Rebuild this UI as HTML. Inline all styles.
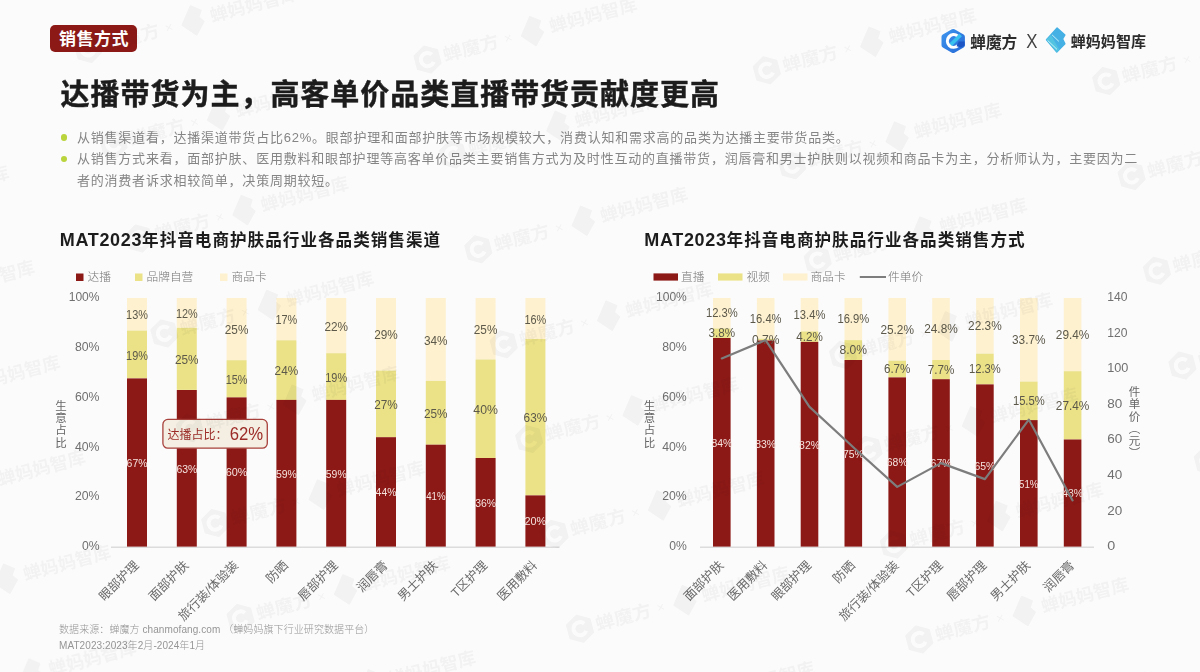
<!DOCTYPE html>
<html lang="zh-CN">
<head>
<meta charset="utf-8">
<title>销售方式</title>
<style>
html,body{margin:0;padding:0;}
body{width:1200px;height:672px;overflow:hidden;background:#fbfbfb;font-family:"Liberation Sans", "Noto Sans CJK SC", sans-serif;position:relative;}
#slide{position:absolute;left:0;top:0;width:1200px;height:672px;overflow:hidden;filter:blur(0.45px);}
.abs{position:absolute;white-space:nowrap;}
#badge{left:50px;top:25px;width:87px;height:27.4px;background:#8c1916;border-radius:5px;color:#fff;font-weight:700;font-size:17px;line-height:29.3px;text-align:center;letter-spacing:0.5px;text-indent:1px;}
#title{left:60.6px;top:73.4px;font-size:29px;font-weight:700;-webkit-text-stroke:0.45px #1c1c1c;color:#1c1c1c;letter-spacing:0.97px;line-height:44px;}
.bul{left:77px;font-size:13px;font-weight:400;color:#858585;letter-spacing:0.78px;line-height:21.5px;}
.dot{width:6.6px;height:6.6px;border-radius:50%;background:#b9d43c;left:60.8px;margin-top:-0.3px;}
.ctitle{font-size:16.6px;font-weight:700;color:#1c1c1c;line-height:24px;letter-spacing:1.0px;}
.ctitle span{font-size:18px;letter-spacing:0.65px;}
.foot{left:59px;font-size:10px;color:#959595;font-weight:300;line-height:14px;letter-spacing:0.08px;}
#rv{left:1127.5px;top:386.3px;width:12px;writing-mode:vertical-rl;font-size:11.5px;letter-spacing:0.7px;color:#666;font-weight:400;line-height:12px;}
svg{position:absolute;left:0;top:0;}
svg text{font-family:"Liberation Sans", "Noto Sans CJK SC", sans-serif;}
.wl{font-size:10.8px;fill:#f5e3de;font-weight:300;}
.dl{font-size:12.2px;fill:#5c584a;font-weight:300;}
.xl{font-size:12.5px;fill:#6a6a6a;text-anchor:end;font-weight:400;}
.al{font-size:12.2px;fill:#707070;font-weight:300;}
.vl{font-size:11.5px;fill:#666;text-anchor:middle;font-weight:400;}
.lg{font-size:11.7px;fill:#777;font-weight:300;}
#wmlayer{opacity:0.036;filter:blur(0.7px);}
.wm text{font-size:18px;font-weight:700;fill:#000;}
</style>
</head>
<body>
<div id="slide">
<div id="badge" class="abs">销售方式</div>
<div id="title" class="abs">达播带货为主，高客单价品类直播带货贡献度更高</div>
<div class="abs dot" style="top:134.5px"></div>
<div class="abs dot" style="top:156px"></div>
<div class="abs bul" style="top:126.5px">从销售渠道看，达播渠道带货占比62%。眼部护理和面部护肤等市场规模较大，消费认知和需求高的品类为达播主要带货品类。</div>
<div class="abs bul" style="top:148px">从销售方式来看，面部护肤、医用敷料和眼部护理等高客单价品类主要销售方式为及时性互动的直播带货，润唇膏和男士护肤则以视频和商品卡为主，分析师认为，主要因为二<br>者的消费者诉求相较简单，决策周期较短。</div>
<div class="abs ctitle" style="left:59.8px;top:227.9px"><span>MAT2023</span>年抖音电商护肤品行业各品类销售渠道</div>
<div class="abs ctitle" style="left:644.3px;top:227.9px"><span>MAT2023</span>年抖音电商护肤品行业各品类销售方式</div>
<div class="abs foot" style="top:622.5px">数据来源：蝉魔方 chanmofang.com （蝉妈妈旗下行业研究数据平台）</div>
<div class="abs foot" style="top:639px">MAT2023:2023年2月-2024年1月</div>
<div id="rv" class="abs">件单价（元）</div>

<svg width="1200" height="672" viewBox="0 0 1200 672">
<defs>
<linearGradient id="hx" x1="0" y1="0" x2="1" y2="1"><stop offset="0" stop-color="#3f97ee"/><stop offset="1" stop-color="#2468d6"/></linearGradient>

</defs>

<!-- logos -->
<g id="logo1">
<path d="M951.9 29.3 Q953.2 28.5 954.5 29.3 L963.6 34.5 Q964.9 35.3 964.9 36.8 L964.9 45.2 Q964.9 46.7 963.6 47.5 L954.5 52.7 Q953.2 53.5 951.9 52.7 L942.8 47.5 Q941.5 46.7 941.5 45.2 L941.5 36.8 Q941.5 35.3 942.8 34.5 Z" fill="url(#hx)"/>
<path d="M957.6 36.0 A6.3 6.3 0 1 0 958.0 45.6" fill="none" stroke="#fff" stroke-width="3.2"/>
<path d="M950.8 44.6 L960.6 35.0" fill="none" stroke="#38c1ee" stroke-width="3.6"/>
<path d="M958.8 41.6 L964.6 41.6 L964.6 45.6 L961 47.6 L956.5 46.2 Z" fill="#1d55c4"/>
<text x="970.3" y="47.5" font-size="16" font-weight="700" fill="#2b2b2b" textLength="47" lengthAdjust="spacingAndGlyphs">蝉魔方</text>
<text transform="translate(1026.3,47.8) scale(0.82,1)" font-size="20.5" font-weight="300" fill="#444">X</text>
</g>
<g id="logo2">
<path d="M1057.1 28 L1064.9 35 L1062.6 39 L1064.9 43.7 L1056.8 52 L1046.5 39.7 Z" fill="#45b0e4" stroke="#45b0e4" stroke-width="1.4" stroke-linejoin="round"/>
<path d="M1051 35 L1046.2 39.7 L1056.8 52.3 L1059.3 49.8 Z" fill="#52c4e2"/>
<path d="M1052.1 34.9 L1058.9 41.4" stroke="#c5f1f8" stroke-width="1"/>
<path d="M1047.6 40.4 L1057 49.4" stroke="#c5f1f8" stroke-width="1"/>
<text x="1070.8" y="46.5" font-size="15" font-weight="700" fill="#2b2b2b" textLength="75.2" lengthAdjust="spacingAndGlyphs">蝉妈妈智库</text>
</g>

<!-- left chart -->
<g id="lchart">
<rect x="76" y="273.5" width="7.5" height="7.5" fill="#8c1916"/><text x="87.5" y="281.5" class="lg" dy="-0.4">达播</text>
<rect x="135" y="273.5" width="7.5" height="7.5" fill="#ebe288"/><text x="146.5" y="281.5" class="lg" dy="-0.4">品牌自营</text>
<rect x="220" y="273.5" width="7.5" height="7.5" fill="#fdf1d0"/><text x="231.5" y="281.5" class="lg" dy="-0.4">商品卡</text>
<text x="81.9" y="550.3" class="al" textLength="17.6" lengthAdjust="spacingAndGlyphs">0%</text>
<text x="74.9" y="500.4" class="al" textLength="24.6" lengthAdjust="spacingAndGlyphs">20%</text>
<text x="74.9" y="450.5" class="al" textLength="24.6" lengthAdjust="spacingAndGlyphs">40%</text>
<text x="74.9" y="400.7" class="al" textLength="24.6" lengthAdjust="spacingAndGlyphs">60%</text>
<text x="74.9" y="350.8" class="al" textLength="24.6" lengthAdjust="spacingAndGlyphs">80%</text>
<text x="68.7" y="300.9" class="al" textLength="30.8" lengthAdjust="spacingAndGlyphs">100%</text>
<text x="61" y="409.8" class="vl">生</text>
<text x="61" y="422.1" class="vl">意</text>
<text x="61" y="434.4" class="vl">占</text>
<text x="61" y="446.7" class="vl">比</text>
<line x1="111" y1="547.2" x2="559.5" y2="547.2" stroke="#dcdcdc" stroke-width="1.4"/>
<rect x="127.0" y="298.0" width="20.0" height="32.6" fill="#fdf1d0"/><rect x="127.0" y="330.6" width="20.0" height="47.7" fill="#ebe288"/><rect x="127.0" y="378.4" width="20.0" height="168.2" fill="#8c1916"/>
<rect x="176.8" y="298.0" width="20.0" height="29.8" fill="#fdf1d0"/><rect x="176.8" y="327.8" width="20.0" height="62.1" fill="#ebe288"/><rect x="176.8" y="390.0" width="20.0" height="156.6" fill="#8c1916"/>
<rect x="226.6" y="298.0" width="20.0" height="62.2" fill="#fdf1d0"/><rect x="226.6" y="360.2" width="20.0" height="37.3" fill="#ebe288"/><rect x="226.6" y="397.4" width="20.0" height="149.2" fill="#8c1916"/>
<rect x="276.4" y="298.0" width="20.0" height="42.3" fill="#fdf1d0"/><rect x="276.4" y="340.3" width="20.0" height="59.7" fill="#ebe288"/><rect x="276.4" y="399.9" width="20.0" height="146.7" fill="#8c1916"/>
<rect x="326.2" y="298.0" width="20.0" height="55.2" fill="#fdf1d0"/><rect x="326.2" y="353.2" width="20.0" height="46.7" fill="#ebe288"/><rect x="326.2" y="399.9" width="20.0" height="146.7" fill="#8c1916"/>
<rect x="376.0" y="298.0" width="20.0" height="72.6" fill="#fdf1d0"/><rect x="376.0" y="370.6" width="20.0" height="66.6" fill="#ebe288"/><rect x="376.0" y="437.2" width="20.0" height="109.4" fill="#8c1916"/>
<rect x="425.8" y="298.0" width="20.0" height="82.9" fill="#fdf1d0"/><rect x="425.8" y="380.9" width="20.0" height="63.8" fill="#ebe288"/><rect x="425.8" y="444.7" width="20.0" height="101.9" fill="#8c1916"/>
<rect x="475.6" y="298.0" width="20.0" height="61.5" fill="#fdf1d0"/><rect x="475.6" y="359.5" width="20.0" height="98.5" fill="#ebe288"/><rect x="475.6" y="458.0" width="20.0" height="88.6" fill="#8c1916"/>
<rect x="525.4" y="298.0" width="20.0" height="41.0" fill="#fdf1d0"/><rect x="525.4" y="339.0" width="20.0" height="156.4" fill="#ebe288"/><rect x="525.4" y="495.4" width="20.0" height="51.2" fill="#8c1916"/>
<text x="126.6" y="466.7" class="wl" textLength="20.9" lengthAdjust="spacingAndGlyphs">67%</text>
<text x="126.1" y="359.6" class="dl" textLength="21.8" lengthAdjust="spacingAndGlyphs">19%</text>
<text x="126.1" y="319.4" class="dl" textLength="21.8" lengthAdjust="spacingAndGlyphs">13%</text>
<text x="176.4" y="472.5" class="wl" textLength="20.9" lengthAdjust="spacingAndGlyphs">63%</text>
<text x="175.0" y="364.0" class="dl" textLength="23.6" lengthAdjust="spacingAndGlyphs">25%</text>
<text x="175.9" y="318.0" class="dl" textLength="21.8" lengthAdjust="spacingAndGlyphs">12%</text>
<text x="225.7" y="476.2" class="wl" textLength="21.8" lengthAdjust="spacingAndGlyphs">60%</text>
<text x="225.7" y="383.9" class="dl" textLength="21.8" lengthAdjust="spacingAndGlyphs">15%</text>
<text x="224.8" y="334.2" class="dl" textLength="23.6" lengthAdjust="spacingAndGlyphs">25%</text>
<text x="276.0" y="477.5" class="wl" textLength="20.9" lengthAdjust="spacingAndGlyphs">59%</text>
<text x="274.6" y="375.2" class="dl" textLength="23.6" lengthAdjust="spacingAndGlyphs">24%</text>
<text x="275.5" y="324.2" class="dl" textLength="21.8" lengthAdjust="spacingAndGlyphs">17%</text>
<text x="325.8" y="477.5" class="wl" textLength="20.9" lengthAdjust="spacingAndGlyphs">59%</text>
<text x="325.3" y="381.7" class="dl" textLength="21.8" lengthAdjust="spacingAndGlyphs">19%</text>
<text x="324.4" y="330.7" class="dl" textLength="23.6" lengthAdjust="spacingAndGlyphs">22%</text>
<text x="375.6" y="496.1" class="wl" textLength="20.9" lengthAdjust="spacingAndGlyphs">44%</text>
<text x="374.2" y="409.0" class="dl" textLength="23.6" lengthAdjust="spacingAndGlyphs">27%</text>
<text x="374.2" y="339.4" class="dl" textLength="23.6" lengthAdjust="spacingAndGlyphs">29%</text>
<text x="426.2" y="499.8" class="wl" textLength="19.3" lengthAdjust="spacingAndGlyphs">41%</text>
<text x="424.0" y="417.9" class="dl" textLength="23.6" lengthAdjust="spacingAndGlyphs">25%</text>
<text x="424.0" y="344.6" class="dl" textLength="23.6" lengthAdjust="spacingAndGlyphs">34%</text>
<text x="475.2" y="506.5" class="wl" textLength="20.9" lengthAdjust="spacingAndGlyphs">36%</text>
<text x="473.3" y="413.9" class="dl" textLength="24.6" lengthAdjust="spacingAndGlyphs">40%</text>
<text x="473.8" y="333.9" class="dl" textLength="23.6" lengthAdjust="spacingAndGlyphs">25%</text>
<text x="524.5" y="525.2" class="wl" textLength="21.8" lengthAdjust="spacingAndGlyphs">20%</text>
<text x="523.6" y="422.3" class="dl" textLength="23.6" lengthAdjust="spacingAndGlyphs">63%</text>
<text x="524.5" y="323.6" class="dl" textLength="21.8" lengthAdjust="spacingAndGlyphs">16%</text>
<text transform="translate(139.5,566.1) rotate(-45)" class="xl">眼部护理</text>
<text transform="translate(189.3,566.1) rotate(-45)" class="xl">面部护肤</text>
<text transform="translate(239.1,566.1) rotate(-45)" class="xl">旅行装/体验装</text>
<text transform="translate(288.9,566.1) rotate(-45)" class="xl">防晒</text>
<text transform="translate(338.7,566.1) rotate(-45)" class="xl">唇部护理</text>
<text transform="translate(388.5,566.1) rotate(-45)" class="xl">润唇膏</text>
<text transform="translate(438.3,566.1) rotate(-45)" class="xl">男士护肤</text>
<text transform="translate(488.1,566.1) rotate(-45)" class="xl">T区护理</text>
<text transform="translate(537.9,566.1) rotate(-45)" class="xl">医用敷料</text>
<rect x="162.9" y="419.4" width="104.4" height="28.8" rx="5" fill="#f4efe2" stroke="#a8403b" stroke-width="1.3"/>
<text x="167.6" y="438.8" font-size="12" font-weight="400" fill="#9c2a26">达播占比：</text>
<text x="229.7" y="439.9" font-size="18.5" font-weight="400" fill="#9c2a26" textLength="33.5" lengthAdjust="spacingAndGlyphs">62%</text>
</g>

<!-- right chart -->
<g id="rchart">
<rect x="653.5" y="273.4" width="24.5" height="7.2" fill="#8c1916"/><text x="681" y="281.5" class="lg" dy="-0.4">直播</text>
<rect x="718" y="273.4" width="24.5" height="7.2" fill="#ebe288"/><text x="746.5" y="281.5" class="lg" dy="-0.4">视频</text>
<rect x="783" y="273.4" width="24.5" height="7.2" fill="#fdf1d0"/><text x="810.5" y="281.5" class="lg" dy="-0.4">商品卡</text>
<line x1="859.8" y1="277" x2="886" y2="277" stroke="#7d7d7d" stroke-width="2"/><text x="888" y="281.5" class="lg" dy="-0.4">件单价</text>
<text x="669.2" y="550.3" class="al" textLength="17.6" lengthAdjust="spacingAndGlyphs">0%</text>
<text x="662.2" y="500.4" class="al" textLength="24.6" lengthAdjust="spacingAndGlyphs">20%</text>
<text x="662.2" y="450.5" class="al" textLength="24.6" lengthAdjust="spacingAndGlyphs">40%</text>
<text x="662.2" y="400.7" class="al" textLength="24.6" lengthAdjust="spacingAndGlyphs">60%</text>
<text x="662.2" y="350.8" class="al" textLength="24.6" lengthAdjust="spacingAndGlyphs">80%</text>
<text x="656.0" y="300.9" class="al" textLength="30.8" lengthAdjust="spacingAndGlyphs">100%</text>
<text x="649.5" y="409.8" class="vl">生</text>
<text x="649.5" y="422.1" class="vl">意</text>
<text x="649.5" y="434.4" class="vl">占</text>
<text x="649.5" y="446.7" class="vl">比</text>
<text x="1107.2" y="550.2" class="al" textLength="8.0" lengthAdjust="spacingAndGlyphs">0</text>
<text x="1107.2" y="514.6" class="al" textLength="15.0" lengthAdjust="spacingAndGlyphs">20</text>
<text x="1107.2" y="479.0" class="al" textLength="15.0" lengthAdjust="spacingAndGlyphs">40</text>
<text x="1107.2" y="443.4" class="al" textLength="15.0" lengthAdjust="spacingAndGlyphs">60</text>
<text x="1107.2" y="407.9" class="al" textLength="15.0" lengthAdjust="spacingAndGlyphs">80</text>
<text x="1107.2" y="372.3" class="al" textLength="21.2" lengthAdjust="spacingAndGlyphs">100</text>
<text x="1107.2" y="336.7" class="al" textLength="20.2" lengthAdjust="spacingAndGlyphs">120</text>
<text x="1107.2" y="301.1" class="al" textLength="20.2" lengthAdjust="spacingAndGlyphs">140</text>
<line x1="700" y1="547.2" x2="1094" y2="547.2" stroke="#dcdcdc" stroke-width="1.4"/>
<rect x="713.0" y="298.0" width="17.6" height="30.5" fill="#fdf1d0"/><rect x="713.0" y="328.5" width="17.6" height="9.4" fill="#ebe288"/><rect x="713.0" y="338.0" width="17.6" height="208.6" fill="#8c1916"/>
<rect x="756.9" y="298.0" width="17.6" height="40.7" fill="#fdf1d0"/><rect x="756.9" y="338.7" width="17.6" height="1.7" fill="#ebe288"/><rect x="756.9" y="340.5" width="17.6" height="206.1" fill="#8c1916"/>
<rect x="800.7" y="298.0" width="17.6" height="33.4" fill="#fdf1d0"/><rect x="800.7" y="331.4" width="17.6" height="10.5" fill="#ebe288"/><rect x="800.7" y="341.9" width="17.6" height="204.7" fill="#8c1916"/>
<rect x="844.5" y="298.0" width="17.6" height="42.1" fill="#fdf1d0"/><rect x="844.5" y="340.1" width="17.6" height="19.9" fill="#ebe288"/><rect x="844.5" y="360.0" width="17.6" height="186.6" fill="#8c1916"/>
<rect x="888.4" y="298.0" width="17.6" height="62.7" fill="#fdf1d0"/><rect x="888.4" y="360.7" width="17.6" height="16.7" fill="#ebe288"/><rect x="888.4" y="377.4" width="17.6" height="169.2" fill="#8c1916"/>
<rect x="932.2" y="298.0" width="17.6" height="62.0" fill="#fdf1d0"/><rect x="932.2" y="360.0" width="17.6" height="19.2" fill="#ebe288"/><rect x="932.2" y="379.2" width="17.6" height="167.4" fill="#8c1916"/>
<rect x="976.1" y="298.0" width="17.6" height="55.7" fill="#fdf1d0"/><rect x="976.1" y="353.7" width="17.6" height="30.7" fill="#ebe288"/><rect x="976.1" y="384.4" width="17.6" height="162.2" fill="#8c1916"/>
<rect x="1020.0" y="298.0" width="17.6" height="83.6" fill="#fdf1d0"/><rect x="1020.0" y="381.6" width="17.6" height="38.5" fill="#ebe288"/><rect x="1020.0" y="420.1" width="17.6" height="126.5" fill="#8c1916"/>
<rect x="1063.8" y="298.0" width="17.6" height="73.2" fill="#fdf1d0"/><rect x="1063.8" y="371.2" width="17.6" height="68.3" fill="#ebe288"/><rect x="1063.8" y="439.5" width="17.6" height="107.1" fill="#8c1916"/>
<text x="711.4" y="446.5" class="wl" textLength="20.9" lengthAdjust="spacingAndGlyphs">84%</text>
<text x="708.5" y="337.4" class="dl" textLength="26.6" lengthAdjust="spacingAndGlyphs">3.8%</text>
<text x="705.9" y="317.4" class="dl" textLength="31.8" lengthAdjust="spacingAndGlyphs">12.3%</text>
<text x="755.2" y="447.7" class="wl" textLength="20.9" lengthAdjust="spacingAndGlyphs">83%</text>
<text x="751.9" y="343.7" class="dl" textLength="27.6" lengthAdjust="spacingAndGlyphs">0.7%</text>
<text x="749.8" y="322.5" class="dl" textLength="31.8" lengthAdjust="spacingAndGlyphs">16.4%</text>
<text x="799.1" y="448.5" class="wl" textLength="20.9" lengthAdjust="spacingAndGlyphs">82%</text>
<text x="796.2" y="340.8" class="dl" textLength="26.6" lengthAdjust="spacingAndGlyphs">4.2%</text>
<text x="793.6" y="318.8" class="dl" textLength="31.8" lengthAdjust="spacingAndGlyphs">13.4%</text>
<text x="842.9" y="457.5" class="wl" textLength="20.9" lengthAdjust="spacingAndGlyphs">75%</text>
<text x="839.5" y="354.1" class="dl" textLength="27.6" lengthAdjust="spacingAndGlyphs">8.0%</text>
<text x="837.4" y="323.1" class="dl" textLength="31.8" lengthAdjust="spacingAndGlyphs">16.9%</text>
<text x="886.8" y="466.2" class="wl" textLength="20.9" lengthAdjust="spacingAndGlyphs">68%</text>
<text x="883.9" y="373.1" class="dl" textLength="26.6" lengthAdjust="spacingAndGlyphs">6.7%</text>
<text x="880.4" y="333.5" class="dl" textLength="33.6" lengthAdjust="spacingAndGlyphs">25.2%</text>
<text x="930.6" y="467.1" class="wl" textLength="20.9" lengthAdjust="spacingAndGlyphs">67%</text>
<text x="927.8" y="373.7" class="dl" textLength="26.6" lengthAdjust="spacingAndGlyphs">7.7%</text>
<text x="924.2" y="333.1" class="dl" textLength="33.6" lengthAdjust="spacingAndGlyphs">24.8%</text>
<text x="974.5" y="469.7" class="wl" textLength="20.9" lengthAdjust="spacingAndGlyphs">65%</text>
<text x="969.0" y="373.1" class="dl" textLength="31.8" lengthAdjust="spacingAndGlyphs">12.3%</text>
<text x="968.1" y="329.9" class="dl" textLength="33.6" lengthAdjust="spacingAndGlyphs">22.3%</text>
<text x="1019.1" y="487.5" class="wl" textLength="19.3" lengthAdjust="spacingAndGlyphs">51%</text>
<text x="1012.9" y="404.9" class="dl" textLength="31.8" lengthAdjust="spacingAndGlyphs">15.5%</text>
<text x="1012.0" y="343.9" class="dl" textLength="33.6" lengthAdjust="spacingAndGlyphs">33.7%</text>
<text x="1062.2" y="497.2" class="wl" textLength="20.9" lengthAdjust="spacingAndGlyphs">43%</text>
<text x="1055.8" y="409.5" class="dl" textLength="33.6" lengthAdjust="spacingAndGlyphs">27.4%</text>
<text x="1055.8" y="338.7" class="dl" textLength="33.6" lengthAdjust="spacingAndGlyphs">29.4%</text>
<path d="M721.8,358.4 L765.6,340.1 L809.5,406.9 L853.3,447.2 L897.2,486.9 L941.0,463.1 L984.9,479.1 L1028.8,419.6 L1072.6,500.4" fill="none" stroke="#7d7d7d" stroke-width="2.2" stroke-linejoin="round" stroke-linecap="round"/>
<text transform="translate(724.3,566.1) rotate(-45)" class="xl">面部护肤</text>
<text transform="translate(768.1,566.1) rotate(-45)" class="xl">医用敷料</text>
<text transform="translate(812.0,566.1) rotate(-45)" class="xl">眼部护理</text>
<text transform="translate(855.8,566.1) rotate(-45)" class="xl">防晒</text>
<text transform="translate(899.7,566.1) rotate(-45)" class="xl">旅行装/体验装</text>
<text transform="translate(943.5,566.1) rotate(-45)" class="xl">T区护理</text>
<text transform="translate(987.4,566.1) rotate(-45)" class="xl">唇部护理</text>
<text transform="translate(1031.2,566.1) rotate(-45)" class="xl">男士护肤</text>
<text transform="translate(1075.1,566.1) rotate(-45)" class="xl">润唇膏</text>
</g>

<!-- watermarks -->
<g id="wmlayer">
<g class="wm" transform="translate(-121.0,104.9) rotate(-15.0)"><path d="M-108.5,-13.5 L-96.8,-6.75 L-96.8,6.75 L-108.5,13.5 L-120.2,6.75 L-120.2,-6.75 Z M-101.46,-4.93 A8.6,8.6 0 1 0 -101.46,4.93 L-104.73,2.64 A4.6,4.6 0 1 1 -104.73,-2.64 Z" fill-rule="evenodd"/><path d="M-108.5,-13.5 L-96.8,-6.75 L-96.8,6.75 L-108.5,13.5 L-120.2,6.75 L-120.2,-6.75 Z" fill="none" stroke="#000" stroke-width="2" stroke-linejoin="round"/><text x="-92" y="6.5" textLength="57" lengthAdjust="spacingAndGlyphs">蝉魔方</text><text x="-29" y="5" style="font-weight:400;font-size:14px">×</text><path d="M1.5,-15 L10.5,-8 L6.5,-2 L10.5,3.5 L0,14.5 L-11.5,1.5 Z" stroke="#000" stroke-width="1.5" stroke-linejoin="round"/><text x="18" y="6.5" textLength="90" lengthAdjust="spacingAndGlyphs">蝉妈妈智库</text></g>
<g class="wm" transform="translate(-95.6,199.7) rotate(-15.0)"><path d="M-108.5,-13.5 L-96.8,-6.75 L-96.8,6.75 L-108.5,13.5 L-120.2,6.75 L-120.2,-6.75 Z M-101.46,-4.93 A8.6,8.6 0 1 0 -101.46,4.93 L-104.73,2.64 A4.6,4.6 0 1 1 -104.73,-2.64 Z" fill-rule="evenodd"/><path d="M-108.5,-13.5 L-96.8,-6.75 L-96.8,6.75 L-108.5,13.5 L-120.2,6.75 L-120.2,-6.75 Z" fill="none" stroke="#000" stroke-width="2" stroke-linejoin="round"/><text x="-92" y="6.5" textLength="57" lengthAdjust="spacingAndGlyphs">蝉魔方</text><text x="-29" y="5" style="font-weight:400;font-size:14px">×</text><path d="M1.5,-15 L10.5,-8 L6.5,-2 L10.5,3.5 L0,14.5 L-11.5,1.5 Z" stroke="#000" stroke-width="1.5" stroke-linejoin="round"/><text x="18" y="6.5" textLength="90" lengthAdjust="spacingAndGlyphs">蝉妈妈智库</text></g>
<g class="wm" transform="translate(-70.1,294.6) rotate(-15.0)"><path d="M-108.5,-13.5 L-96.8,-6.75 L-96.8,6.75 L-108.5,13.5 L-120.2,6.75 L-120.2,-6.75 Z M-101.46,-4.93 A8.6,8.6 0 1 0 -101.46,4.93 L-104.73,2.64 A4.6,4.6 0 1 1 -104.73,-2.64 Z" fill-rule="evenodd"/><path d="M-108.5,-13.5 L-96.8,-6.75 L-96.8,6.75 L-108.5,13.5 L-120.2,6.75 L-120.2,-6.75 Z" fill="none" stroke="#000" stroke-width="2" stroke-linejoin="round"/><text x="-92" y="6.5" textLength="57" lengthAdjust="spacingAndGlyphs">蝉魔方</text><text x="-29" y="5" style="font-weight:400;font-size:14px">×</text><path d="M1.5,-15 L10.5,-8 L6.5,-2 L10.5,3.5 L0,14.5 L-11.5,1.5 Z" stroke="#000" stroke-width="1.5" stroke-linejoin="round"/><text x="18" y="6.5" textLength="90" lengthAdjust="spacingAndGlyphs">蝉妈妈智库</text></g>
<g class="wm" transform="translate(-44.7,389.4) rotate(-15.0)"><path d="M-108.5,-13.5 L-96.8,-6.75 L-96.8,6.75 L-108.5,13.5 L-120.2,6.75 L-120.2,-6.75 Z M-101.46,-4.93 A8.6,8.6 0 1 0 -101.46,4.93 L-104.73,2.64 A4.6,4.6 0 1 1 -104.73,-2.64 Z" fill-rule="evenodd"/><path d="M-108.5,-13.5 L-96.8,-6.75 L-96.8,6.75 L-108.5,13.5 L-120.2,6.75 L-120.2,-6.75 Z" fill="none" stroke="#000" stroke-width="2" stroke-linejoin="round"/><text x="-92" y="6.5" textLength="57" lengthAdjust="spacingAndGlyphs">蝉魔方</text><text x="-29" y="5" style="font-weight:400;font-size:14px">×</text><path d="M1.5,-15 L10.5,-8 L6.5,-2 L10.5,3.5 L0,14.5 L-11.5,1.5 Z" stroke="#000" stroke-width="1.5" stroke-linejoin="round"/><text x="18" y="6.5" textLength="90" lengthAdjust="spacingAndGlyphs">蝉妈妈智库</text></g>
<g class="wm" transform="translate(-19.3,484.3) rotate(-15.0)"><path d="M-108.5,-13.5 L-96.8,-6.75 L-96.8,6.75 L-108.5,13.5 L-120.2,6.75 L-120.2,-6.75 Z M-101.46,-4.93 A8.6,8.6 0 1 0 -101.46,4.93 L-104.73,2.64 A4.6,4.6 0 1 1 -104.73,-2.64 Z" fill-rule="evenodd"/><path d="M-108.5,-13.5 L-96.8,-6.75 L-96.8,6.75 L-108.5,13.5 L-120.2,6.75 L-120.2,-6.75 Z" fill="none" stroke="#000" stroke-width="2" stroke-linejoin="round"/><text x="-92" y="6.5" textLength="57" lengthAdjust="spacingAndGlyphs">蝉魔方</text><text x="-29" y="5" style="font-weight:400;font-size:14px">×</text><path d="M1.5,-15 L10.5,-8 L6.5,-2 L10.5,3.5 L0,14.5 L-11.5,1.5 Z" stroke="#000" stroke-width="1.5" stroke-linejoin="round"/><text x="18" y="6.5" textLength="90" lengthAdjust="spacingAndGlyphs">蝉妈妈智库</text></g>
<g class="wm" transform="translate(6.1,579.2) rotate(-15.0)"><path d="M-108.5,-13.5 L-96.8,-6.75 L-96.8,6.75 L-108.5,13.5 L-120.2,6.75 L-120.2,-6.75 Z M-101.46,-4.93 A8.6,8.6 0 1 0 -101.46,4.93 L-104.73,2.64 A4.6,4.6 0 1 1 -104.73,-2.64 Z" fill-rule="evenodd"/><path d="M-108.5,-13.5 L-96.8,-6.75 L-96.8,6.75 L-108.5,13.5 L-120.2,6.75 L-120.2,-6.75 Z" fill="none" stroke="#000" stroke-width="2" stroke-linejoin="round"/><text x="-92" y="6.5" textLength="57" lengthAdjust="spacingAndGlyphs">蝉魔方</text><text x="-29" y="5" style="font-weight:400;font-size:14px">×</text><path d="M1.5,-15 L10.5,-8 L6.5,-2 L10.5,3.5 L0,14.5 L-11.5,1.5 Z" stroke="#000" stroke-width="1.5" stroke-linejoin="round"/><text x="18" y="6.5" textLength="90" lengthAdjust="spacingAndGlyphs">蝉妈妈智库</text></g>
<g class="wm" transform="translate(31.5,674.0) rotate(-15.0)"><path d="M-108.5,-13.5 L-96.8,-6.75 L-96.8,6.75 L-108.5,13.5 L-120.2,6.75 L-120.2,-6.75 Z M-101.46,-4.93 A8.6,8.6 0 1 0 -101.46,4.93 L-104.73,2.64 A4.6,4.6 0 1 1 -104.73,-2.64 Z" fill-rule="evenodd"/><path d="M-108.5,-13.5 L-96.8,-6.75 L-96.8,6.75 L-108.5,13.5 L-120.2,6.75 L-120.2,-6.75 Z" fill="none" stroke="#000" stroke-width="2" stroke-linejoin="round"/><text x="-92" y="6.5" textLength="57" lengthAdjust="spacingAndGlyphs">蝉魔方</text><text x="-29" y="5" style="font-weight:400;font-size:14px">×</text><path d="M1.5,-15 L10.5,-8 L6.5,-2 L10.5,3.5 L0,14.5 L-11.5,1.5 Z" stroke="#000" stroke-width="1.5" stroke-linejoin="round"/><text x="18" y="6.5" textLength="90" lengthAdjust="spacingAndGlyphs">蝉妈妈智库</text></g>
<g class="wm" transform="translate(192.9,20.8) rotate(-15.0)"><path d="M-108.5,-13.5 L-96.8,-6.75 L-96.8,6.75 L-108.5,13.5 L-120.2,6.75 L-120.2,-6.75 Z M-101.46,-4.93 A8.6,8.6 0 1 0 -101.46,4.93 L-104.73,2.64 A4.6,4.6 0 1 1 -104.73,-2.64 Z" fill-rule="evenodd"/><path d="M-108.5,-13.5 L-96.8,-6.75 L-96.8,6.75 L-108.5,13.5 L-120.2,6.75 L-120.2,-6.75 Z" fill="none" stroke="#000" stroke-width="2" stroke-linejoin="round"/><text x="-92" y="6.5" textLength="57" lengthAdjust="spacingAndGlyphs">蝉魔方</text><text x="-29" y="5" style="font-weight:400;font-size:14px">×</text><path d="M1.5,-15 L10.5,-8 L6.5,-2 L10.5,3.5 L0,14.5 L-11.5,1.5 Z" stroke="#000" stroke-width="1.5" stroke-linejoin="round"/><text x="18" y="6.5" textLength="90" lengthAdjust="spacingAndGlyphs">蝉妈妈智库</text></g>
<g class="wm" transform="translate(218.4,115.6) rotate(-15.0)"><path d="M-108.5,-13.5 L-96.8,-6.75 L-96.8,6.75 L-108.5,13.5 L-120.2,6.75 L-120.2,-6.75 Z M-101.46,-4.93 A8.6,8.6 0 1 0 -101.46,4.93 L-104.73,2.64 A4.6,4.6 0 1 1 -104.73,-2.64 Z" fill-rule="evenodd"/><path d="M-108.5,-13.5 L-96.8,-6.75 L-96.8,6.75 L-108.5,13.5 L-120.2,6.75 L-120.2,-6.75 Z" fill="none" stroke="#000" stroke-width="2" stroke-linejoin="round"/><text x="-92" y="6.5" textLength="57" lengthAdjust="spacingAndGlyphs">蝉魔方</text><text x="-29" y="5" style="font-weight:400;font-size:14px">×</text><path d="M1.5,-15 L10.5,-8 L6.5,-2 L10.5,3.5 L0,14.5 L-11.5,1.5 Z" stroke="#000" stroke-width="1.5" stroke-linejoin="round"/><text x="18" y="6.5" textLength="90" lengthAdjust="spacingAndGlyphs">蝉妈妈智库</text></g>
<g class="wm" transform="translate(243.8,210.5) rotate(-15.0)"><path d="M-108.5,-13.5 L-96.8,-6.75 L-96.8,6.75 L-108.5,13.5 L-120.2,6.75 L-120.2,-6.75 Z M-101.46,-4.93 A8.6,8.6 0 1 0 -101.46,4.93 L-104.73,2.64 A4.6,4.6 0 1 1 -104.73,-2.64 Z" fill-rule="evenodd"/><path d="M-108.5,-13.5 L-96.8,-6.75 L-96.8,6.75 L-108.5,13.5 L-120.2,6.75 L-120.2,-6.75 Z" fill="none" stroke="#000" stroke-width="2" stroke-linejoin="round"/><text x="-92" y="6.5" textLength="57" lengthAdjust="spacingAndGlyphs">蝉魔方</text><text x="-29" y="5" style="font-weight:400;font-size:14px">×</text><path d="M1.5,-15 L10.5,-8 L6.5,-2 L10.5,3.5 L0,14.5 L-11.5,1.5 Z" stroke="#000" stroke-width="1.5" stroke-linejoin="round"/><text x="18" y="6.5" textLength="90" lengthAdjust="spacingAndGlyphs">蝉妈妈智库</text></g>
<g class="wm" transform="translate(269.2,305.3) rotate(-15.0)"><path d="M-108.5,-13.5 L-96.8,-6.75 L-96.8,6.75 L-108.5,13.5 L-120.2,6.75 L-120.2,-6.75 Z M-101.46,-4.93 A8.6,8.6 0 1 0 -101.46,4.93 L-104.73,2.64 A4.6,4.6 0 1 1 -104.73,-2.64 Z" fill-rule="evenodd"/><path d="M-108.5,-13.5 L-96.8,-6.75 L-96.8,6.75 L-108.5,13.5 L-120.2,6.75 L-120.2,-6.75 Z" fill="none" stroke="#000" stroke-width="2" stroke-linejoin="round"/><text x="-92" y="6.5" textLength="57" lengthAdjust="spacingAndGlyphs">蝉魔方</text><text x="-29" y="5" style="font-weight:400;font-size:14px">×</text><path d="M1.5,-15 L10.5,-8 L6.5,-2 L10.5,3.5 L0,14.5 L-11.5,1.5 Z" stroke="#000" stroke-width="1.5" stroke-linejoin="round"/><text x="18" y="6.5" textLength="90" lengthAdjust="spacingAndGlyphs">蝉妈妈智库</text></g>
<g class="wm" transform="translate(294.6,400.2) rotate(-15.0)"><path d="M-108.5,-13.5 L-96.8,-6.75 L-96.8,6.75 L-108.5,13.5 L-120.2,6.75 L-120.2,-6.75 Z M-101.46,-4.93 A8.6,8.6 0 1 0 -101.46,4.93 L-104.73,2.64 A4.6,4.6 0 1 1 -104.73,-2.64 Z" fill-rule="evenodd"/><path d="M-108.5,-13.5 L-96.8,-6.75 L-96.8,6.75 L-108.5,13.5 L-120.2,6.75 L-120.2,-6.75 Z" fill="none" stroke="#000" stroke-width="2" stroke-linejoin="round"/><text x="-92" y="6.5" textLength="57" lengthAdjust="spacingAndGlyphs">蝉魔方</text><text x="-29" y="5" style="font-weight:400;font-size:14px">×</text><path d="M1.5,-15 L10.5,-8 L6.5,-2 L10.5,3.5 L0,14.5 L-11.5,1.5 Z" stroke="#000" stroke-width="1.5" stroke-linejoin="round"/><text x="18" y="6.5" textLength="90" lengthAdjust="spacingAndGlyphs">蝉妈妈智库</text></g>
<g class="wm" transform="translate(320.0,495.0) rotate(-15.0)"><path d="M-108.5,-13.5 L-96.8,-6.75 L-96.8,6.75 L-108.5,13.5 L-120.2,6.75 L-120.2,-6.75 Z M-101.46,-4.93 A8.6,8.6 0 1 0 -101.46,4.93 L-104.73,2.64 A4.6,4.6 0 1 1 -104.73,-2.64 Z" fill-rule="evenodd"/><path d="M-108.5,-13.5 L-96.8,-6.75 L-96.8,6.75 L-108.5,13.5 L-120.2,6.75 L-120.2,-6.75 Z" fill="none" stroke="#000" stroke-width="2" stroke-linejoin="round"/><text x="-92" y="6.5" textLength="57" lengthAdjust="spacingAndGlyphs">蝉魔方</text><text x="-29" y="5" style="font-weight:400;font-size:14px">×</text><path d="M1.5,-15 L10.5,-8 L6.5,-2 L10.5,3.5 L0,14.5 L-11.5,1.5 Z" stroke="#000" stroke-width="1.5" stroke-linejoin="round"/><text x="18" y="6.5" textLength="90" lengthAdjust="spacingAndGlyphs">蝉妈妈智库</text></g>
<g class="wm" transform="translate(345.4,589.9) rotate(-15.0)"><path d="M-108.5,-13.5 L-96.8,-6.75 L-96.8,6.75 L-108.5,13.5 L-120.2,6.75 L-120.2,-6.75 Z M-101.46,-4.93 A8.6,8.6 0 1 0 -101.46,4.93 L-104.73,2.64 A4.6,4.6 0 1 1 -104.73,-2.64 Z" fill-rule="evenodd"/><path d="M-108.5,-13.5 L-96.8,-6.75 L-96.8,6.75 L-108.5,13.5 L-120.2,6.75 L-120.2,-6.75 Z" fill="none" stroke="#000" stroke-width="2" stroke-linejoin="round"/><text x="-92" y="6.5" textLength="57" lengthAdjust="spacingAndGlyphs">蝉魔方</text><text x="-29" y="5" style="font-weight:400;font-size:14px">×</text><path d="M1.5,-15 L10.5,-8 L6.5,-2 L10.5,3.5 L0,14.5 L-11.5,1.5 Z" stroke="#000" stroke-width="1.5" stroke-linejoin="round"/><text x="18" y="6.5" textLength="90" lengthAdjust="spacingAndGlyphs">蝉妈妈智库</text></g>
<g class="wm" transform="translate(370.9,684.7) rotate(-15.0)"><path d="M-108.5,-13.5 L-96.8,-6.75 L-96.8,6.75 L-108.5,13.5 L-120.2,6.75 L-120.2,-6.75 Z M-101.46,-4.93 A8.6,8.6 0 1 0 -101.46,4.93 L-104.73,2.64 A4.6,4.6 0 1 1 -104.73,-2.64 Z" fill-rule="evenodd"/><path d="M-108.5,-13.5 L-96.8,-6.75 L-96.8,6.75 L-108.5,13.5 L-120.2,6.75 L-120.2,-6.75 Z" fill="none" stroke="#000" stroke-width="2" stroke-linejoin="round"/><text x="-92" y="6.5" textLength="57" lengthAdjust="spacingAndGlyphs">蝉魔方</text><text x="-29" y="5" style="font-weight:400;font-size:14px">×</text><path d="M1.5,-15 L10.5,-8 L6.5,-2 L10.5,3.5 L0,14.5 L-11.5,1.5 Z" stroke="#000" stroke-width="1.5" stroke-linejoin="round"/><text x="18" y="6.5" textLength="90" lengthAdjust="spacingAndGlyphs">蝉妈妈智库</text></g>
<g class="wm" transform="translate(532.3,31.5) rotate(-15.0)"><path d="M-108.5,-13.5 L-96.8,-6.75 L-96.8,6.75 L-108.5,13.5 L-120.2,6.75 L-120.2,-6.75 Z M-101.46,-4.93 A8.6,8.6 0 1 0 -101.46,4.93 L-104.73,2.64 A4.6,4.6 0 1 1 -104.73,-2.64 Z" fill-rule="evenodd"/><path d="M-108.5,-13.5 L-96.8,-6.75 L-96.8,6.75 L-108.5,13.5 L-120.2,6.75 L-120.2,-6.75 Z" fill="none" stroke="#000" stroke-width="2" stroke-linejoin="round"/><text x="-92" y="6.5" textLength="57" lengthAdjust="spacingAndGlyphs">蝉魔方</text><text x="-29" y="5" style="font-weight:400;font-size:14px">×</text><path d="M1.5,-15 L10.5,-8 L6.5,-2 L10.5,3.5 L0,14.5 L-11.5,1.5 Z" stroke="#000" stroke-width="1.5" stroke-linejoin="round"/><text x="18" y="6.5" textLength="90" lengthAdjust="spacingAndGlyphs">蝉妈妈智库</text></g>
<g class="wm" transform="translate(557.7,126.4) rotate(-15.0)"><path d="M-108.5,-13.5 L-96.8,-6.75 L-96.8,6.75 L-108.5,13.5 L-120.2,6.75 L-120.2,-6.75 Z M-101.46,-4.93 A8.6,8.6 0 1 0 -101.46,4.93 L-104.73,2.64 A4.6,4.6 0 1 1 -104.73,-2.64 Z" fill-rule="evenodd"/><path d="M-108.5,-13.5 L-96.8,-6.75 L-96.8,6.75 L-108.5,13.5 L-120.2,6.75 L-120.2,-6.75 Z" fill="none" stroke="#000" stroke-width="2" stroke-linejoin="round"/><text x="-92" y="6.5" textLength="57" lengthAdjust="spacingAndGlyphs">蝉魔方</text><text x="-29" y="5" style="font-weight:400;font-size:14px">×</text><path d="M1.5,-15 L10.5,-8 L6.5,-2 L10.5,3.5 L0,14.5 L-11.5,1.5 Z" stroke="#000" stroke-width="1.5" stroke-linejoin="round"/><text x="18" y="6.5" textLength="90" lengthAdjust="spacingAndGlyphs">蝉妈妈智库</text></g>
<g class="wm" transform="translate(583.1,221.2) rotate(-15.0)"><path d="M-108.5,-13.5 L-96.8,-6.75 L-96.8,6.75 L-108.5,13.5 L-120.2,6.75 L-120.2,-6.75 Z M-101.46,-4.93 A8.6,8.6 0 1 0 -101.46,4.93 L-104.73,2.64 A4.6,4.6 0 1 1 -104.73,-2.64 Z" fill-rule="evenodd"/><path d="M-108.5,-13.5 L-96.8,-6.75 L-96.8,6.75 L-108.5,13.5 L-120.2,6.75 L-120.2,-6.75 Z" fill="none" stroke="#000" stroke-width="2" stroke-linejoin="round"/><text x="-92" y="6.5" textLength="57" lengthAdjust="spacingAndGlyphs">蝉魔方</text><text x="-29" y="5" style="font-weight:400;font-size:14px">×</text><path d="M1.5,-15 L10.5,-8 L6.5,-2 L10.5,3.5 L0,14.5 L-11.5,1.5 Z" stroke="#000" stroke-width="1.5" stroke-linejoin="round"/><text x="18" y="6.5" textLength="90" lengthAdjust="spacingAndGlyphs">蝉妈妈智库</text></g>
<g class="wm" transform="translate(608.5,316.1) rotate(-15.0)"><path d="M-108.5,-13.5 L-96.8,-6.75 L-96.8,6.75 L-108.5,13.5 L-120.2,6.75 L-120.2,-6.75 Z M-101.46,-4.93 A8.6,8.6 0 1 0 -101.46,4.93 L-104.73,2.64 A4.6,4.6 0 1 1 -104.73,-2.64 Z" fill-rule="evenodd"/><path d="M-108.5,-13.5 L-96.8,-6.75 L-96.8,6.75 L-108.5,13.5 L-120.2,6.75 L-120.2,-6.75 Z" fill="none" stroke="#000" stroke-width="2" stroke-linejoin="round"/><text x="-92" y="6.5" textLength="57" lengthAdjust="spacingAndGlyphs">蝉魔方</text><text x="-29" y="5" style="font-weight:400;font-size:14px">×</text><path d="M1.5,-15 L10.5,-8 L6.5,-2 L10.5,3.5 L0,14.5 L-11.5,1.5 Z" stroke="#000" stroke-width="1.5" stroke-linejoin="round"/><text x="18" y="6.5" textLength="90" lengthAdjust="spacingAndGlyphs">蝉妈妈智库</text></g>
<g class="wm" transform="translate(634.0,410.9) rotate(-15.0)"><path d="M-108.5,-13.5 L-96.8,-6.75 L-96.8,6.75 L-108.5,13.5 L-120.2,6.75 L-120.2,-6.75 Z M-101.46,-4.93 A8.6,8.6 0 1 0 -101.46,4.93 L-104.73,2.64 A4.6,4.6 0 1 1 -104.73,-2.64 Z" fill-rule="evenodd"/><path d="M-108.5,-13.5 L-96.8,-6.75 L-96.8,6.75 L-108.5,13.5 L-120.2,6.75 L-120.2,-6.75 Z" fill="none" stroke="#000" stroke-width="2" stroke-linejoin="round"/><text x="-92" y="6.5" textLength="57" lengthAdjust="spacingAndGlyphs">蝉魔方</text><text x="-29" y="5" style="font-weight:400;font-size:14px">×</text><path d="M1.5,-15 L10.5,-8 L6.5,-2 L10.5,3.5 L0,14.5 L-11.5,1.5 Z" stroke="#000" stroke-width="1.5" stroke-linejoin="round"/><text x="18" y="6.5" textLength="90" lengthAdjust="spacingAndGlyphs">蝉妈妈智库</text></g>
<g class="wm" transform="translate(659.4,505.8) rotate(-15.0)"><path d="M-108.5,-13.5 L-96.8,-6.75 L-96.8,6.75 L-108.5,13.5 L-120.2,6.75 L-120.2,-6.75 Z M-101.46,-4.93 A8.6,8.6 0 1 0 -101.46,4.93 L-104.73,2.64 A4.6,4.6 0 1 1 -104.73,-2.64 Z" fill-rule="evenodd"/><path d="M-108.5,-13.5 L-96.8,-6.75 L-96.8,6.75 L-108.5,13.5 L-120.2,6.75 L-120.2,-6.75 Z" fill="none" stroke="#000" stroke-width="2" stroke-linejoin="round"/><text x="-92" y="6.5" textLength="57" lengthAdjust="spacingAndGlyphs">蝉魔方</text><text x="-29" y="5" style="font-weight:400;font-size:14px">×</text><path d="M1.5,-15 L10.5,-8 L6.5,-2 L10.5,3.5 L0,14.5 L-11.5,1.5 Z" stroke="#000" stroke-width="1.5" stroke-linejoin="round"/><text x="18" y="6.5" textLength="90" lengthAdjust="spacingAndGlyphs">蝉妈妈智库</text></g>
<g class="wm" transform="translate(684.8,600.6) rotate(-15.0)"><path d="M-108.5,-13.5 L-96.8,-6.75 L-96.8,6.75 L-108.5,13.5 L-120.2,6.75 L-120.2,-6.75 Z M-101.46,-4.93 A8.6,8.6 0 1 0 -101.46,4.93 L-104.73,2.64 A4.6,4.6 0 1 1 -104.73,-2.64 Z" fill-rule="evenodd"/><path d="M-108.5,-13.5 L-96.8,-6.75 L-96.8,6.75 L-108.5,13.5 L-120.2,6.75 L-120.2,-6.75 Z" fill="none" stroke="#000" stroke-width="2" stroke-linejoin="round"/><text x="-92" y="6.5" textLength="57" lengthAdjust="spacingAndGlyphs">蝉魔方</text><text x="-29" y="5" style="font-weight:400;font-size:14px">×</text><path d="M1.5,-15 L10.5,-8 L6.5,-2 L10.5,3.5 L0,14.5 L-11.5,1.5 Z" stroke="#000" stroke-width="1.5" stroke-linejoin="round"/><text x="18" y="6.5" textLength="90" lengthAdjust="spacingAndGlyphs">蝉妈妈智库</text></g>
<g class="wm" transform="translate(710.2,695.5) rotate(-15.0)"><path d="M-108.5,-13.5 L-96.8,-6.75 L-96.8,6.75 L-108.5,13.5 L-120.2,6.75 L-120.2,-6.75 Z M-101.46,-4.93 A8.6,8.6 0 1 0 -101.46,4.93 L-104.73,2.64 A4.6,4.6 0 1 1 -104.73,-2.64 Z" fill-rule="evenodd"/><path d="M-108.5,-13.5 L-96.8,-6.75 L-96.8,6.75 L-108.5,13.5 L-120.2,6.75 L-120.2,-6.75 Z" fill="none" stroke="#000" stroke-width="2" stroke-linejoin="round"/><text x="-92" y="6.5" textLength="57" lengthAdjust="spacingAndGlyphs">蝉魔方</text><text x="-29" y="5" style="font-weight:400;font-size:14px">×</text><path d="M1.5,-15 L10.5,-8 L6.5,-2 L10.5,3.5 L0,14.5 L-11.5,1.5 Z" stroke="#000" stroke-width="1.5" stroke-linejoin="round"/><text x="18" y="6.5" textLength="90" lengthAdjust="spacingAndGlyphs">蝉妈妈智库</text></g>
<g class="wm" transform="translate(846.2,-52.6) rotate(-15.0)"><path d="M-108.5,-13.5 L-96.8,-6.75 L-96.8,6.75 L-108.5,13.5 L-120.2,6.75 L-120.2,-6.75 Z M-101.46,-4.93 A8.6,8.6 0 1 0 -101.46,4.93 L-104.73,2.64 A4.6,4.6 0 1 1 -104.73,-2.64 Z" fill-rule="evenodd"/><path d="M-108.5,-13.5 L-96.8,-6.75 L-96.8,6.75 L-108.5,13.5 L-120.2,6.75 L-120.2,-6.75 Z" fill="none" stroke="#000" stroke-width="2" stroke-linejoin="round"/><text x="-92" y="6.5" textLength="57" lengthAdjust="spacingAndGlyphs">蝉魔方</text><text x="-29" y="5" style="font-weight:400;font-size:14px">×</text><path d="M1.5,-15 L10.5,-8 L6.5,-2 L10.5,3.5 L0,14.5 L-11.5,1.5 Z" stroke="#000" stroke-width="1.5" stroke-linejoin="round"/><text x="18" y="6.5" textLength="90" lengthAdjust="spacingAndGlyphs">蝉妈妈智库</text></g>
<g class="wm" transform="translate(871.6,42.2) rotate(-15.0)"><path d="M-108.5,-13.5 L-96.8,-6.75 L-96.8,6.75 L-108.5,13.5 L-120.2,6.75 L-120.2,-6.75 Z M-101.46,-4.93 A8.6,8.6 0 1 0 -101.46,4.93 L-104.73,2.64 A4.6,4.6 0 1 1 -104.73,-2.64 Z" fill-rule="evenodd"/><path d="M-108.5,-13.5 L-96.8,-6.75 L-96.8,6.75 L-108.5,13.5 L-120.2,6.75 L-120.2,-6.75 Z" fill="none" stroke="#000" stroke-width="2" stroke-linejoin="round"/><text x="-92" y="6.5" textLength="57" lengthAdjust="spacingAndGlyphs">蝉魔方</text><text x="-29" y="5" style="font-weight:400;font-size:14px">×</text><path d="M1.5,-15 L10.5,-8 L6.5,-2 L10.5,3.5 L0,14.5 L-11.5,1.5 Z" stroke="#000" stroke-width="1.5" stroke-linejoin="round"/><text x="18" y="6.5" textLength="90" lengthAdjust="spacingAndGlyphs">蝉妈妈智库</text></g>
<g class="wm" transform="translate(897.0,137.1) rotate(-15.0)"><path d="M-108.5,-13.5 L-96.8,-6.75 L-96.8,6.75 L-108.5,13.5 L-120.2,6.75 L-120.2,-6.75 Z M-101.46,-4.93 A8.6,8.6 0 1 0 -101.46,4.93 L-104.73,2.64 A4.6,4.6 0 1 1 -104.73,-2.64 Z" fill-rule="evenodd"/><path d="M-108.5,-13.5 L-96.8,-6.75 L-96.8,6.75 L-108.5,13.5 L-120.2,6.75 L-120.2,-6.75 Z" fill="none" stroke="#000" stroke-width="2" stroke-linejoin="round"/><text x="-92" y="6.5" textLength="57" lengthAdjust="spacingAndGlyphs">蝉魔方</text><text x="-29" y="5" style="font-weight:400;font-size:14px">×</text><path d="M1.5,-15 L10.5,-8 L6.5,-2 L10.5,3.5 L0,14.5 L-11.5,1.5 Z" stroke="#000" stroke-width="1.5" stroke-linejoin="round"/><text x="18" y="6.5" textLength="90" lengthAdjust="spacingAndGlyphs">蝉妈妈智库</text></g>
<g class="wm" transform="translate(922.5,232.0) rotate(-15.0)"><path d="M-108.5,-13.5 L-96.8,-6.75 L-96.8,6.75 L-108.5,13.5 L-120.2,6.75 L-120.2,-6.75 Z M-101.46,-4.93 A8.6,8.6 0 1 0 -101.46,4.93 L-104.73,2.64 A4.6,4.6 0 1 1 -104.73,-2.64 Z" fill-rule="evenodd"/><path d="M-108.5,-13.5 L-96.8,-6.75 L-96.8,6.75 L-108.5,13.5 L-120.2,6.75 L-120.2,-6.75 Z" fill="none" stroke="#000" stroke-width="2" stroke-linejoin="round"/><text x="-92" y="6.5" textLength="57" lengthAdjust="spacingAndGlyphs">蝉魔方</text><text x="-29" y="5" style="font-weight:400;font-size:14px">×</text><path d="M1.5,-15 L10.5,-8 L6.5,-2 L10.5,3.5 L0,14.5 L-11.5,1.5 Z" stroke="#000" stroke-width="1.5" stroke-linejoin="round"/><text x="18" y="6.5" textLength="90" lengthAdjust="spacingAndGlyphs">蝉妈妈智库</text></g>
<g class="wm" transform="translate(947.9,326.8) rotate(-15.0)"><path d="M-108.5,-13.5 L-96.8,-6.75 L-96.8,6.75 L-108.5,13.5 L-120.2,6.75 L-120.2,-6.75 Z M-101.46,-4.93 A8.6,8.6 0 1 0 -101.46,4.93 L-104.73,2.64 A4.6,4.6 0 1 1 -104.73,-2.64 Z" fill-rule="evenodd"/><path d="M-108.5,-13.5 L-96.8,-6.75 L-96.8,6.75 L-108.5,13.5 L-120.2,6.75 L-120.2,-6.75 Z" fill="none" stroke="#000" stroke-width="2" stroke-linejoin="round"/><text x="-92" y="6.5" textLength="57" lengthAdjust="spacingAndGlyphs">蝉魔方</text><text x="-29" y="5" style="font-weight:400;font-size:14px">×</text><path d="M1.5,-15 L10.5,-8 L6.5,-2 L10.5,3.5 L0,14.5 L-11.5,1.5 Z" stroke="#000" stroke-width="1.5" stroke-linejoin="round"/><text x="18" y="6.5" textLength="90" lengthAdjust="spacingAndGlyphs">蝉妈妈智库</text></g>
<g class="wm" transform="translate(973.3,421.7) rotate(-15.0)"><path d="M-108.5,-13.5 L-96.8,-6.75 L-96.8,6.75 L-108.5,13.5 L-120.2,6.75 L-120.2,-6.75 Z M-101.46,-4.93 A8.6,8.6 0 1 0 -101.46,4.93 L-104.73,2.64 A4.6,4.6 0 1 1 -104.73,-2.64 Z" fill-rule="evenodd"/><path d="M-108.5,-13.5 L-96.8,-6.75 L-96.8,6.75 L-108.5,13.5 L-120.2,6.75 L-120.2,-6.75 Z" fill="none" stroke="#000" stroke-width="2" stroke-linejoin="round"/><text x="-92" y="6.5" textLength="57" lengthAdjust="spacingAndGlyphs">蝉魔方</text><text x="-29" y="5" style="font-weight:400;font-size:14px">×</text><path d="M1.5,-15 L10.5,-8 L6.5,-2 L10.5,3.5 L0,14.5 L-11.5,1.5 Z" stroke="#000" stroke-width="1.5" stroke-linejoin="round"/><text x="18" y="6.5" textLength="90" lengthAdjust="spacingAndGlyphs">蝉妈妈智库</text></g>
<g class="wm" transform="translate(998.7,516.5) rotate(-15.0)"><path d="M-108.5,-13.5 L-96.8,-6.75 L-96.8,6.75 L-108.5,13.5 L-120.2,6.75 L-120.2,-6.75 Z M-101.46,-4.93 A8.6,8.6 0 1 0 -101.46,4.93 L-104.73,2.64 A4.6,4.6 0 1 1 -104.73,-2.64 Z" fill-rule="evenodd"/><path d="M-108.5,-13.5 L-96.8,-6.75 L-96.8,6.75 L-108.5,13.5 L-120.2,6.75 L-120.2,-6.75 Z" fill="none" stroke="#000" stroke-width="2" stroke-linejoin="round"/><text x="-92" y="6.5" textLength="57" lengthAdjust="spacingAndGlyphs">蝉魔方</text><text x="-29" y="5" style="font-weight:400;font-size:14px">×</text><path d="M1.5,-15 L10.5,-8 L6.5,-2 L10.5,3.5 L0,14.5 L-11.5,1.5 Z" stroke="#000" stroke-width="1.5" stroke-linejoin="round"/><text x="18" y="6.5" textLength="90" lengthAdjust="spacingAndGlyphs">蝉妈妈智库</text></g>
<g class="wm" transform="translate(1024.1,611.4) rotate(-15.0)"><path d="M-108.5,-13.5 L-96.8,-6.75 L-96.8,6.75 L-108.5,13.5 L-120.2,6.75 L-120.2,-6.75 Z M-101.46,-4.93 A8.6,8.6 0 1 0 -101.46,4.93 L-104.73,2.64 A4.6,4.6 0 1 1 -104.73,-2.64 Z" fill-rule="evenodd"/><path d="M-108.5,-13.5 L-96.8,-6.75 L-96.8,6.75 L-108.5,13.5 L-120.2,6.75 L-120.2,-6.75 Z" fill="none" stroke="#000" stroke-width="2" stroke-linejoin="round"/><text x="-92" y="6.5" textLength="57" lengthAdjust="spacingAndGlyphs">蝉魔方</text><text x="-29" y="5" style="font-weight:400;font-size:14px">×</text><path d="M1.5,-15 L10.5,-8 L6.5,-2 L10.5,3.5 L0,14.5 L-11.5,1.5 Z" stroke="#000" stroke-width="1.5" stroke-linejoin="round"/><text x="18" y="6.5" textLength="90" lengthAdjust="spacingAndGlyphs">蝉妈妈智库</text></g>
<g class="wm" transform="translate(1049.5,706.2) rotate(-15.0)"><path d="M-108.5,-13.5 L-96.8,-6.75 L-96.8,6.75 L-108.5,13.5 L-120.2,6.75 L-120.2,-6.75 Z M-101.46,-4.93 A8.6,8.6 0 1 0 -101.46,4.93 L-104.73,2.64 A4.6,4.6 0 1 1 -104.73,-2.64 Z" fill-rule="evenodd"/><path d="M-108.5,-13.5 L-96.8,-6.75 L-96.8,6.75 L-108.5,13.5 L-120.2,6.75 L-120.2,-6.75 Z" fill="none" stroke="#000" stroke-width="2" stroke-linejoin="round"/><text x="-92" y="6.5" textLength="57" lengthAdjust="spacingAndGlyphs">蝉魔方</text><text x="-29" y="5" style="font-weight:400;font-size:14px">×</text><path d="M1.5,-15 L10.5,-8 L6.5,-2 L10.5,3.5 L0,14.5 L-11.5,1.5 Z" stroke="#000" stroke-width="1.5" stroke-linejoin="round"/><text x="18" y="6.5" textLength="90" lengthAdjust="spacingAndGlyphs">蝉妈妈智库</text></g>
<g class="wm" transform="translate(1185.6,-41.9) rotate(-15.0)"><path d="M-108.5,-13.5 L-96.8,-6.75 L-96.8,6.75 L-108.5,13.5 L-120.2,6.75 L-120.2,-6.75 Z M-101.46,-4.93 A8.6,8.6 0 1 0 -101.46,4.93 L-104.73,2.64 A4.6,4.6 0 1 1 -104.73,-2.64 Z" fill-rule="evenodd"/><path d="M-108.5,-13.5 L-96.8,-6.75 L-96.8,6.75 L-108.5,13.5 L-120.2,6.75 L-120.2,-6.75 Z" fill="none" stroke="#000" stroke-width="2" stroke-linejoin="round"/><text x="-92" y="6.5" textLength="57" lengthAdjust="spacingAndGlyphs">蝉魔方</text><text x="-29" y="5" style="font-weight:400;font-size:14px">×</text><path d="M1.5,-15 L10.5,-8 L6.5,-2 L10.5,3.5 L0,14.5 L-11.5,1.5 Z" stroke="#000" stroke-width="1.5" stroke-linejoin="round"/><text x="18" y="6.5" textLength="90" lengthAdjust="spacingAndGlyphs">蝉妈妈智库</text></g>
<g class="wm" transform="translate(1211.0,53.0) rotate(-15.0)"><path d="M-108.5,-13.5 L-96.8,-6.75 L-96.8,6.75 L-108.5,13.5 L-120.2,6.75 L-120.2,-6.75 Z M-101.46,-4.93 A8.6,8.6 0 1 0 -101.46,4.93 L-104.73,2.64 A4.6,4.6 0 1 1 -104.73,-2.64 Z" fill-rule="evenodd"/><path d="M-108.5,-13.5 L-96.8,-6.75 L-96.8,6.75 L-108.5,13.5 L-120.2,6.75 L-120.2,-6.75 Z" fill="none" stroke="#000" stroke-width="2" stroke-linejoin="round"/><text x="-92" y="6.5" textLength="57" lengthAdjust="spacingAndGlyphs">蝉魔方</text><text x="-29" y="5" style="font-weight:400;font-size:14px">×</text><path d="M1.5,-15 L10.5,-8 L6.5,-2 L10.5,3.5 L0,14.5 L-11.5,1.5 Z" stroke="#000" stroke-width="1.5" stroke-linejoin="round"/><text x="18" y="6.5" textLength="90" lengthAdjust="spacingAndGlyphs">蝉妈妈智库</text></g>
<g class="wm" transform="translate(1236.4,147.8) rotate(-15.0)"><path d="M-108.5,-13.5 L-96.8,-6.75 L-96.8,6.75 L-108.5,13.5 L-120.2,6.75 L-120.2,-6.75 Z M-101.46,-4.93 A8.6,8.6 0 1 0 -101.46,4.93 L-104.73,2.64 A4.6,4.6 0 1 1 -104.73,-2.64 Z" fill-rule="evenodd"/><path d="M-108.5,-13.5 L-96.8,-6.75 L-96.8,6.75 L-108.5,13.5 L-120.2,6.75 L-120.2,-6.75 Z" fill="none" stroke="#000" stroke-width="2" stroke-linejoin="round"/><text x="-92" y="6.5" textLength="57" lengthAdjust="spacingAndGlyphs">蝉魔方</text><text x="-29" y="5" style="font-weight:400;font-size:14px">×</text><path d="M1.5,-15 L10.5,-8 L6.5,-2 L10.5,3.5 L0,14.5 L-11.5,1.5 Z" stroke="#000" stroke-width="1.5" stroke-linejoin="round"/><text x="18" y="6.5" textLength="90" lengthAdjust="spacingAndGlyphs">蝉妈妈智库</text></g>
<g class="wm" transform="translate(1261.8,242.7) rotate(-15.0)"><path d="M-108.5,-13.5 L-96.8,-6.75 L-96.8,6.75 L-108.5,13.5 L-120.2,6.75 L-120.2,-6.75 Z M-101.46,-4.93 A8.6,8.6 0 1 0 -101.46,4.93 L-104.73,2.64 A4.6,4.6 0 1 1 -104.73,-2.64 Z" fill-rule="evenodd"/><path d="M-108.5,-13.5 L-96.8,-6.75 L-96.8,6.75 L-108.5,13.5 L-120.2,6.75 L-120.2,-6.75 Z" fill="none" stroke="#000" stroke-width="2" stroke-linejoin="round"/><text x="-92" y="6.5" textLength="57" lengthAdjust="spacingAndGlyphs">蝉魔方</text><text x="-29" y="5" style="font-weight:400;font-size:14px">×</text><path d="M1.5,-15 L10.5,-8 L6.5,-2 L10.5,3.5 L0,14.5 L-11.5,1.5 Z" stroke="#000" stroke-width="1.5" stroke-linejoin="round"/><text x="18" y="6.5" textLength="90" lengthAdjust="spacingAndGlyphs">蝉妈妈智库</text></g>
<g class="wm" transform="translate(1287.2,337.5) rotate(-15.0)"><path d="M-108.5,-13.5 L-96.8,-6.75 L-96.8,6.75 L-108.5,13.5 L-120.2,6.75 L-120.2,-6.75 Z M-101.46,-4.93 A8.6,8.6 0 1 0 -101.46,4.93 L-104.73,2.64 A4.6,4.6 0 1 1 -104.73,-2.64 Z" fill-rule="evenodd"/><path d="M-108.5,-13.5 L-96.8,-6.75 L-96.8,6.75 L-108.5,13.5 L-120.2,6.75 L-120.2,-6.75 Z" fill="none" stroke="#000" stroke-width="2" stroke-linejoin="round"/><text x="-92" y="6.5" textLength="57" lengthAdjust="spacingAndGlyphs">蝉魔方</text><text x="-29" y="5" style="font-weight:400;font-size:14px">×</text><path d="M1.5,-15 L10.5,-8 L6.5,-2 L10.5,3.5 L0,14.5 L-11.5,1.5 Z" stroke="#000" stroke-width="1.5" stroke-linejoin="round"/><text x="18" y="6.5" textLength="90" lengthAdjust="spacingAndGlyphs">蝉妈妈智库</text></g>
<g class="wm" transform="translate(1312.6,432.4) rotate(-15.0)"><path d="M-108.5,-13.5 L-96.8,-6.75 L-96.8,6.75 L-108.5,13.5 L-120.2,6.75 L-120.2,-6.75 Z M-101.46,-4.93 A8.6,8.6 0 1 0 -101.46,4.93 L-104.73,2.64 A4.6,4.6 0 1 1 -104.73,-2.64 Z" fill-rule="evenodd"/><path d="M-108.5,-13.5 L-96.8,-6.75 L-96.8,6.75 L-108.5,13.5 L-120.2,6.75 L-120.2,-6.75 Z" fill="none" stroke="#000" stroke-width="2" stroke-linejoin="round"/><text x="-92" y="6.5" textLength="57" lengthAdjust="spacingAndGlyphs">蝉魔方</text><text x="-29" y="5" style="font-weight:400;font-size:14px">×</text><path d="M1.5,-15 L10.5,-8 L6.5,-2 L10.5,3.5 L0,14.5 L-11.5,1.5 Z" stroke="#000" stroke-width="1.5" stroke-linejoin="round"/><text x="18" y="6.5" textLength="90" lengthAdjust="spacingAndGlyphs">蝉妈妈智库</text></g>
</g>
</svg>
</div>
</body>
</html>
